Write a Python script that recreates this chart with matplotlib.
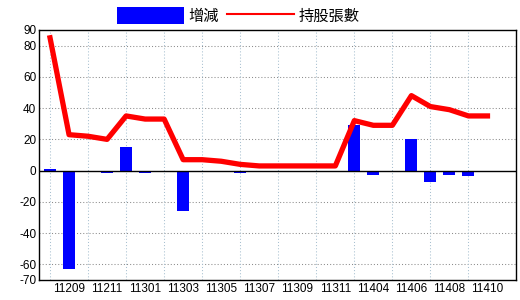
import matplotlib
matplotlib.use("Agg")
import matplotlib.pyplot as plt
import numpy as np

# months (one slot per data point), labels shown on every other slot
months = ["11208", "11209", "11210", "11211", "11212", "11301", "11302", "11303",
          "11304", "11305", "11306", "11307", "11308", "11309", "11310", "11311",
          "11403", "11404", "11405", "11406", "11407", "11408", "11409", "11410"]
change = [1, -63, -1, -1.5, 15, -1.5, 0, -26,
          0, -1, -1.5, -1, 0, 0, 0, 0,
          29, -3, 0, 20, -7, -3, -3.5, 0]
holding = [85, 23, 22, 20, 35, 33, 33, 7,
           7, 6, 4, 3, 3, 3, 3, 3,
           32, 29, 29, 48, 41, 39, 35, 35]
yticks = [90, 80, 60, 40, 20, 0, -20, -40, -60, -70]

plt.rcParams['font.family'] = ['Noto Sans CJK TC', 'DejaVu Sans']
tick_font = ['Liberation Sans', 'DejaVu Sans']

fig = plt.figure(figsize=(5.2, 3.0), dpi=100)
ax = fig.add_axes([39 / 520, 20 / 300, 477 / 520, 250 / 300])

x = np.arange(len(months))
bars = ax.bar(x, change, width=0.63, color='#0000ff', zorder=2, label='增減')
line, = ax.plot(x, holding, color='#ff0000', lw=3.8, zorder=3, label='持股張數')

ax.set_xlim(-0.58, 24.5)
ax.set_ylim(-70, 90)

# grid
for v in [80, 60, 40, 20, -20, -40, -60]:
    ax.axhline(v, color='#8c8c8c', lw=0.75, ls=(0, (1, 2)), zorder=1)
for i in range(0, 23, 2):
    ax.axvline(i, color='#a8c0d0', lw=0.75, ls=(0, (1, 2)), zorder=1)
ax.axhline(0, color='black', lw=1.0, zorder=2.5)

ax.set_yticks(yticks)
ax.set_yticklabels([str(v) for v in yticks], fontsize=8.5, family=tick_font)
ax.set_xticks(x[1::2])
ax.set_xticklabels(months[1::2], fontsize=8.5, family=tick_font)
ax.tick_params(length=0, pad=2)
for s in ax.spines.values():
    s.set_color('black')
    s.set_linewidth(1.0)

leg = fig.legend(handles=[bars, line], labels=['增減', '持股張數'],
                 loc='center', bbox_to_anchor=(238 / 520, 1 - 16 / 300), ncol=2,
                 frameon=False, fontsize=11, handlelength=4.4, handleheight=1.3,
                 handletextpad=0.3, columnspacing=0.5, borderaxespad=0)
leg.legend_handles[1].set_linewidth(1.5)

fig.savefig("out.png", dpi=100)
